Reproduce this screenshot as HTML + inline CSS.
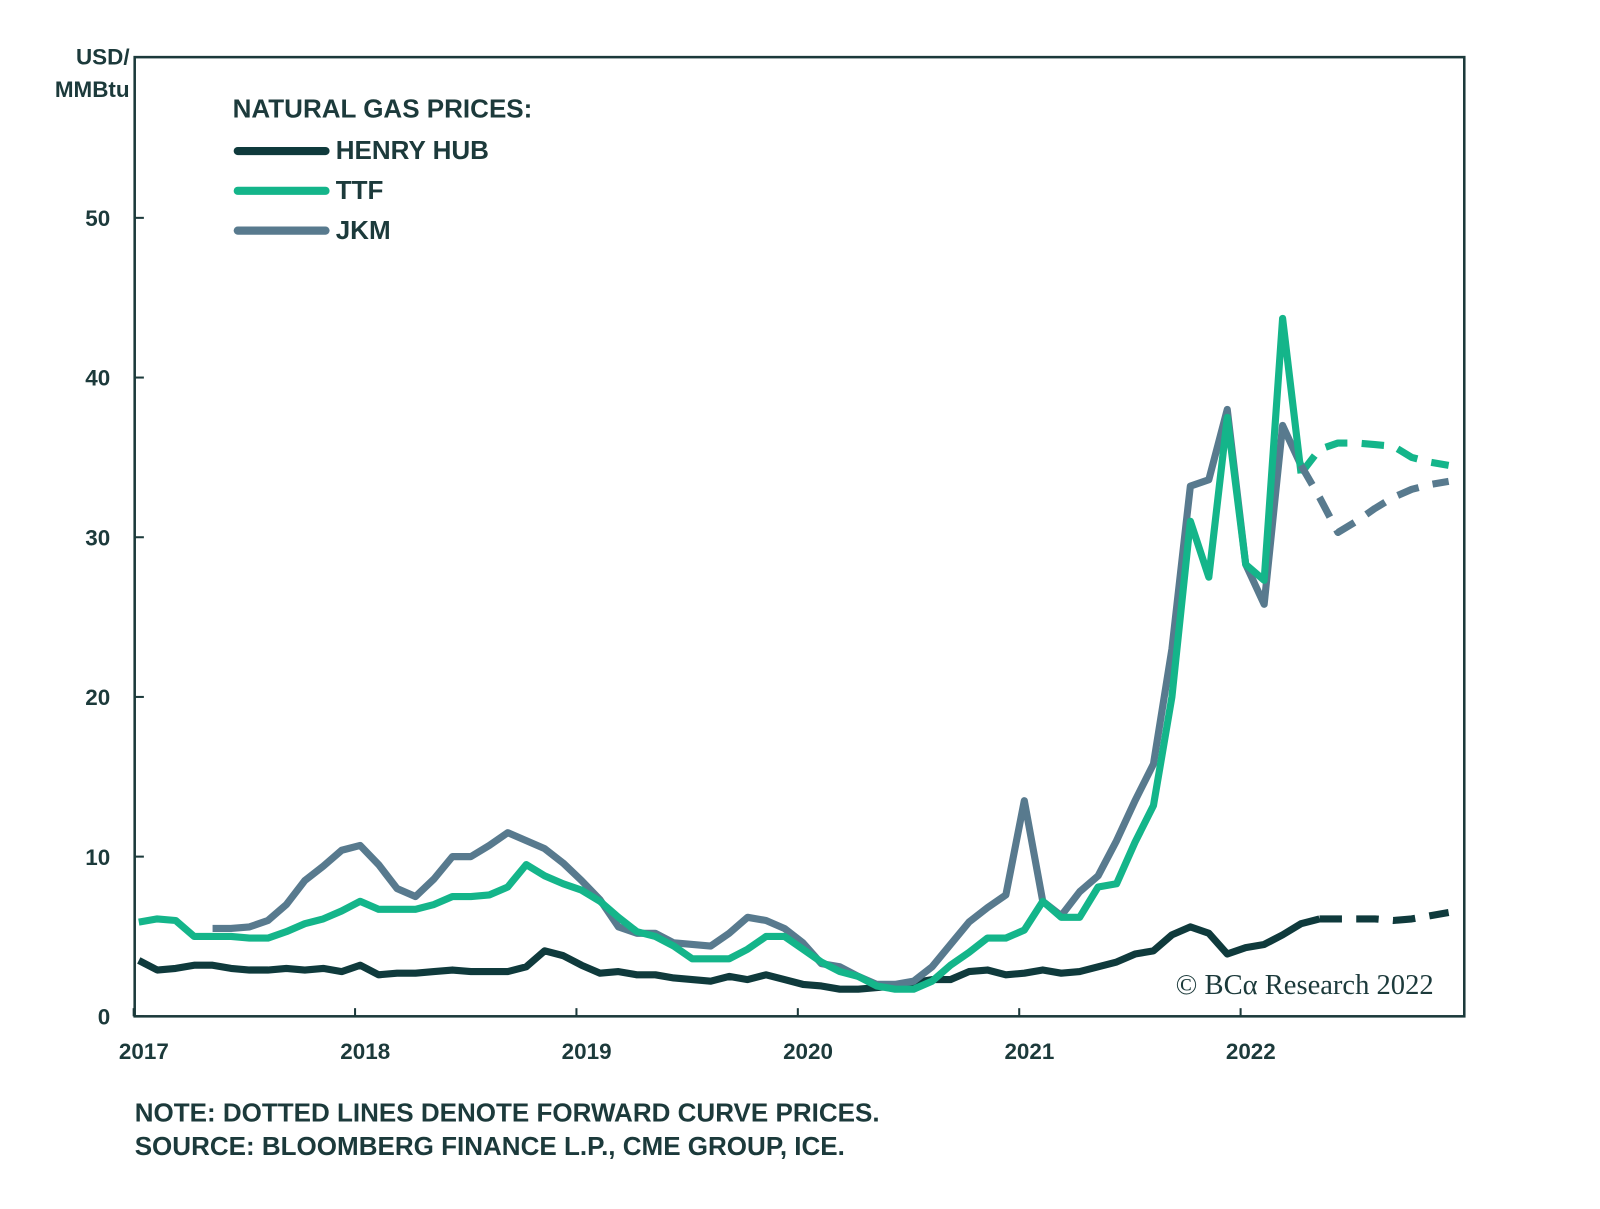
<!DOCTYPE html>
<html><head><meta charset="utf-8"><style>
body{margin:0;background:#fff;}
svg{display:block;font-family:"Liberation Sans",sans-serif;}
</style></head><body>
<svg width="1600" height="1209" viewBox="0 0 1600 1209">
<g transform="scale(1.0204)">
<rect x="132" y="56" width="1303" height="940" fill="none" stroke="#1c3a3b" stroke-width="2.5"/>
<g id="axes" fill="#1c3a3b" font-weight="bold" font-size="22"></g>
<text x="127" y="63" text-anchor="end" font-size="22" font-weight="bold" fill="#1c3a3b">USD/</text>
<text x="127" y="95" text-anchor="end" font-size="22" font-weight="bold" fill="#1c3a3b">MMBtu</text>
<g id="lines"></g>
<g>
<text x="228" y="115" font-size="25.5" font-weight="bold" fill="#1c3a3b">NATURAL GAS PRICES:</text>
<line x1="233" y1="148" x2="319" y2="148" stroke="#0f3a3c" stroke-width="8" stroke-linecap="round"/>
<text x="329" y="156" font-size="25.5" font-weight="bold" fill="#1c3a3b">HENRY HUB</text>
<line x1="233" y1="187" x2="319" y2="187" stroke="#14b58a" stroke-width="8" stroke-linecap="round"/>
<text x="329" y="195" font-size="25.5" font-weight="bold" fill="#1c3a3b">TTF</text>
<line x1="233" y1="226" x2="319" y2="226" stroke="#587a8e" stroke-width="8" stroke-linecap="round"/>
<text x="329" y="234" font-size="25.5" font-weight="bold" fill="#1c3a3b">JKM</text>
</g>
<text x="1405" y="974" text-anchor="end" font-family="Liberation Serif,serif" font-size="28" fill="#1c3a3b">© BCα Research 2022</text>
<text x="132" y="1099" font-size="25.5" font-weight="bold" fill="#1c3a3b">NOTE: DOTTED LINES DENOTE FORWARD CURVE PRICES.</text>
<text x="132" y="1132" font-size="25.5" font-weight="bold" fill="#1c3a3b">SOURCE: BLOOMBERG FINANCE L.P., CME GROUP, ICE.</text>
</g>
</svg>
<script>
const yTicks=[0,10,20,30,40,50];
const xTickLabels=["2017","2018","2019","2020","2021","2022"];
const hh=[3.5,2.9,3.0,3.2,3.2,3.0,2.9,2.9,3.0,2.9,3.0,2.8,3.2,2.6,2.7,2.7,2.8,2.9,2.8,2.8,2.8,3.1,4.1,3.8,3.2,2.7,2.8,2.6,2.6,2.4,2.3,2.2,2.5,2.3,2.6,2.3,2.0,1.9,1.7,1.7,1.8,1.9,2.1,2.3,2.3,2.8,2.9,2.6,2.7,2.9,2.7,2.8,3.1,3.4,3.9,4.1,5.1,5.6,5.2,3.9,4.3,4.5,5.1,5.8,6.1];
const hhFwd=[6.1,6.1,6.1,6.1,6.0,6.1,6.3,6.5];
const ttf=[5.9,6.1,6.0,5.0,5.0,5.0,4.9,4.9,5.3,5.8,6.1,6.6,7.2,6.7,6.7,6.7,7.0,7.5,7.5,7.6,8.1,9.5,8.8,8.3,7.9,7.2,6.2,5.3,5.0,4.4,3.6,3.6,3.6,4.2,5.0,5.0,4.2,3.4,2.8,2.5,1.9,1.7,1.7,2.2,3.2,4.0,4.9,4.9,5.4,7.2,6.2,6.2,8.1,8.3,10.9,13.2,20,31,27.5,37.5,28.3,27.3,43.7,34];
const ttfFwd=[34,35.5,35.9,35.9,35.8,35.7,35.0,34.7,34.5];
const jkmStart=4;
const jkm=[5.5,5.5,5.6,6.0,7.0,8.5,9.4,10.4,10.7,9.5,8.0,7.5,8.6,10.0,10.0,10.7,11.5,11.0,10.5,9.6,8.5,7.3,5.6,5.2,5.2,4.6,4.5,4.4,5.2,6.2,6.0,5.5,4.6,3.3,3.1,2.5,2.0,2.0,2.2,3.1,4.5,5.9,6.8,7.6,13.5,7.2,6.3,7.8,8.8,11.0,13.5,15.8,23,33.2,33.6,38,28.3,25.8,37,34.5];
const jkmFwd=[34.5,32.5,30.3,31,31.8,32.5,33,33.3,33.5];
const X=m=>136+m*18.08, Y=v=>996-v*15.65;
const ns="http://www.w3.org/2000/svg";
const axes=document.getElementById('axes'), lines=document.getElementById('lines');
yTicks.forEach(v=>{
 const t=document.createElementNS(ns,'text');t.setAttribute('x',108);t.setAttribute('y',Y(v)+8);t.setAttribute('text-anchor','end');t.textContent=v;
 
 
 axes.appendChild(t);
 const l=document.createElementNS(ns,'line');l.setAttribute('x1',132);l.setAttribute('x2',141);l.setAttribute('y1',Y(v));l.setAttribute('y2',Y(v));l.setAttribute('stroke','#1c3a3b');l.setAttribute('stroke-width',2);
 
 
 axes.appendChild(l);
});
xTickLabels.forEach((s,i)=>{
 const x=X(i*12);
 const t=document.createElementNS(ns,'text');t.setAttribute('x',x+5);t.setAttribute('y',1038);t.setAttribute('text-anchor','middle');t.textContent=s;
 
 
 axes.appendChild(t);
 const l=document.createElementNS(ns,'line');l.setAttribute('x1',x-5);l.setAttribute('x2',x-5);l.setAttribute('y1',988);l.setAttribute('y2',996);l.setAttribute('stroke','#1c3a3b');l.setAttribute('stroke-width',2);
 
 
 axes.appendChild(l);
});
function draw(arr,start,color,dash,name){
 const p=document.createElementNS(ns,'polyline');
 p.setAttribute('points',arr.map((v,i)=>X(start+i)+','+Y(v)).join(' '));
 p.setAttribute('fill','none');p.setAttribute('stroke',color);p.setAttribute('stroke-width',7);p.setAttribute('stroke-linejoin','round');
 if(dash)p.setAttribute('stroke-dasharray','22 14');
 
 
 lines.appendChild(p);
}
draw(hh,0,'#0f3a3c',false,'henry-hub-line');
draw(hhFwd,hh.length-1,'#0f3a3c',true,'henry-hub-forward-line');
draw(jkm,jkmStart,'#587a8e',false,'jkm-line');
draw(ttf,0,'#14b58a',false,'ttf-line');
draw(ttfFwd,ttf.length-1,'#14b58a',true,'ttf-forward-line');
draw(jkmFwd,jkmStart+jkm.length-1,'#587a8e',true,'jkm-forward-line');
</script>
</body></html>
